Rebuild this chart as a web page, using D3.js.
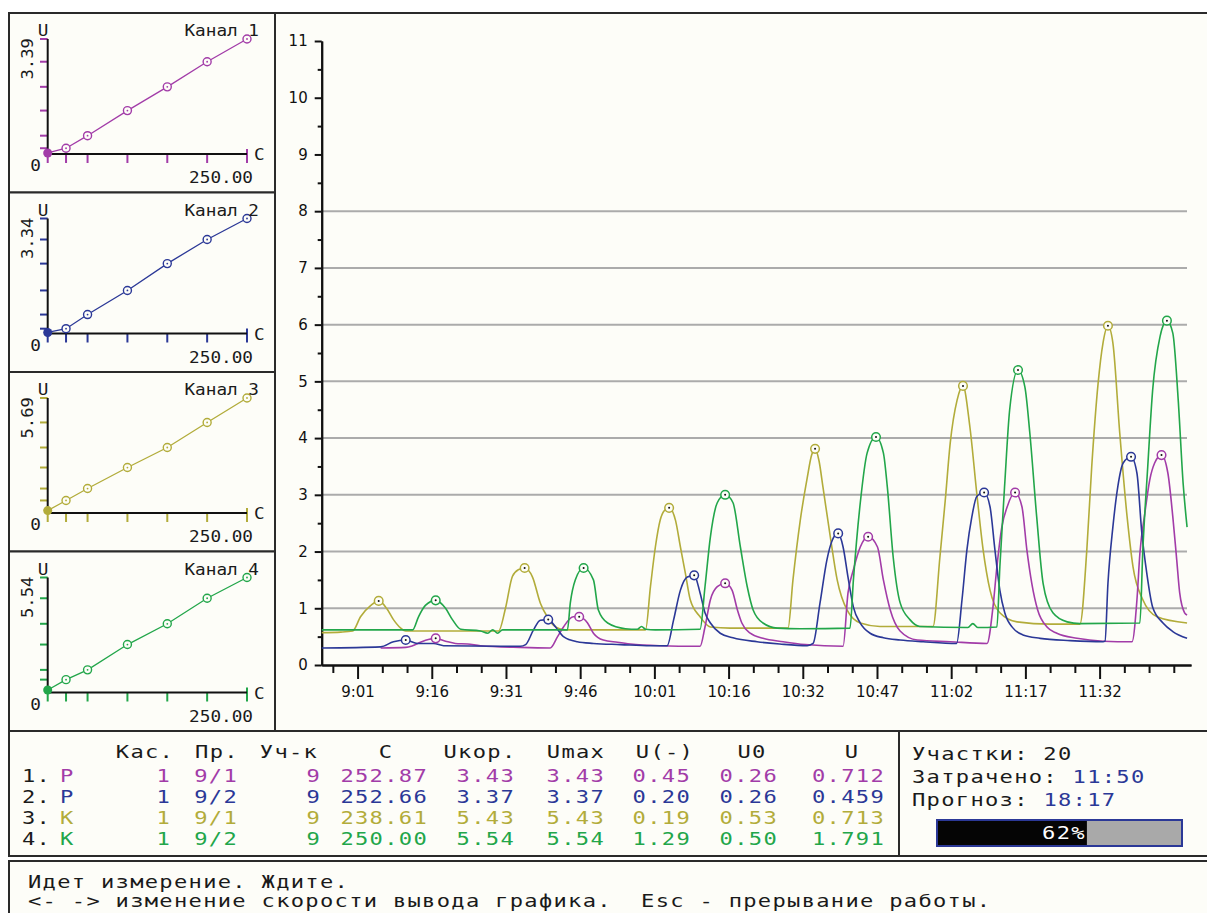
<!DOCTYPE html>
<html>
<head>
<meta charset="utf-8">
<script src="https://cdn.jsdelivr.net/npm/d3@7"></script>
<style>
body { margin: 0; background: #fff; }
svg { display: block; }
.mono { font-family: "DejaVu Sans Mono", monospace; font-size: 17px; letter-spacing: 1px; fill: #1a1a1a; white-space: pre; }
.small { font-family: "DejaVu Sans Mono", monospace; font-size: 15px; fill: #1a1a1a; }
.ax text { font-family: "DejaVu Sans", sans-serif; font-size: 15px; fill: #111; }
</style>
</head>
<body>
<div id="screen"></div>
<script>
// ---- данные ----
const channelNames = ['Канал 1', 'Канал 2', 'Канал 3', 'Канал 4'];
const calibC = [0, 23, 50, 100, 150, 200, 250];
const calibU1 = [0.03, 0.17, 0.54, 1.28, 1.98, 2.72, 3.39];
const calibU2 = [0.03, 0.14, 0.55, 1.25, 2.03, 2.73, 3.34];
const calibU3 = [0.12, 0.62, 1.21, 2.25, 3.24, 4.48, 5.69];
const calibU4 = [0.12, 0.62, 1.09, 2.31, 3.31, 4.54, 5.54];
const calibTop = ['3.39', '3.34', '5.69', '5.54'];
const calibMaxC = '250.00';

// время в минутах от 9:00
const timeTicks = [1, 16.1, 31.2, 46.3, 61.4, 76.5, 91.6, 106.7, 121.8, 136.9, 152.0];
const timeLabels = ['9:01', '9:16', '9:31', '9:46', '10:01', '10:16', '10:32', '10:47', '11:02', '11:17', '11:32'];
const yTicks = [0, 1, 2, 3, 4, 5, 6, 7, 8, 9, 10, 11];
const gridValues = [1, 2, 3, 4, 5, 6, 7, 8];

const ch1Trace = [[5.7,0.3],[10.8,0.31],[12.2,0.34],[13.8,0.4],[15.4,0.45],[16.9,0.47],[18.9,0.42],[20.9,0.38],[23.4,0.37],[26.0,0.34],
  [34.1,0.31],[40.2,0.3],[41.7,0.5],[42.9,0.67],[44.9,0.85],[46.1,0.85],[47.8,0.74],[49.0,0.56],[51.0,0.44],[53.9,0.4],[56.5,0.37],[62.6,0.34],
  [70.1,0.33],[70.7,0.33],[71.7,0.67],[72.8,1.15],[74.2,1.38],[75.8,1.44],[77.2,1.32],[78.3,0.97],[79.2,0.74],[80.9,0.56],[83.5,0.47],[87.6,0.41],[92.1,0.36],
  [99.8,0.33],[100.8,1.27],[101.9,1.68],[103.3,2.08],[104.9,2.26],[106.8,2.08],[108.0,1.5],[109.4,0.97],[111.4,0.6],[114.9,0.44],[121.6,0.41],
  [129.1,0.38],[130.3,1.02],[131.1,1.73],[132.1,2.43],[133.2,2.79],[134.8,3.04],[136.2,2.79],[137.2,2.03],[138.2,1.44],[139.4,0.97],[141.3,0.67],[143.3,0.56],[147.4,0.47],[152.7,0.42],
  [158.6,0.41],[159.6,1.15],[160.2,1.97],[161.2,2.67],[162.2,3.26],[163.2,3.56],[164.6,3.7],[165.9,3.38],[166.9,2.61],[167.7,1.85],[168.3,1.27],[169.3,0.92],[169.8,0.88]];

const ch2Trace = [[-6.3,0.3],[5.7,0.32],[8.3,0.41],[10.8,0.44],[13.2,0.38],[16.5,0.38],[18.5,0.34],[34.1,0.33],
  [35.2,0.36],[36.8,0.62],[38.2,0.79],[39.8,0.8],[41.3,0.67],[42.9,0.5],[45.7,0.41],[49.0,0.38],[54.5,0.36],[60.6,0.34],
  [64.0,0.34],[65.3,0.79],[66.7,1.32],[68.1,1.55],[69.5,1.58],[70.7,1.27],[71.7,0.92],[72.8,0.74],[74.8,0.56],[77.4,0.48],[82.3,0.41],[86.9,0.37],[92.5,0.34],
  [93.7,0.38],[95.1,1.09],[96.5,1.85],[97.6,2.2],[98.8,2.32],[99.8,2.08],[100.8,1.55],[101.9,1.02],[103.3,0.74],[105.3,0.56],[108.0,0.48],[111.4,0.44],[116.1,0.41],[122.9,0.38],
  [124.0,1.15],[125.0,2.03],[126.0,2.61],[127.0,2.97],[128.5,3.04],[129.7,2.79],[130.7,2.03],[131.7,1.32],[132.7,0.92],[134.4,0.65],[136.4,0.53],[139.9,0.47],[146.0,0.43],[152.7,0.41],
  [153.1,0.42],[153.7,1.44],[154.7,2.43],[155.7,3.14],[156.8,3.56],[158.4,3.67],[159.6,3.38],[160.6,2.32],[161.6,1.62],[162.8,1.02],[164.9,0.74],[166.9,0.59],[169.8,0.47]];

const ch3Trace = [[-6.3,0.57],[-2.4,0.58],[0,0.6],[1.6,0.85],[3.7,1.05],[5.3,1.13],[6.9,1.0],[8.3,0.8],[9.8,0.65],[10.8,0.6],
  [29.7,0.6],[31.1,1.0],[32.5,1.56],[33.7,1.68],[35.0,1.71],[36.6,1.55],[38.2,1.09],[39.6,0.85],[40.9,0.7],[43.3,0.62],
  [59.6,0.62],[60.6,1.38],[61.6,2.08],[62.6,2.56],[63.4,2.72],[64.4,2.77],[65.7,2.55],[66.7,2.08],[67.7,1.62],[68.7,1.15],[70.7,0.85],[72.8,0.67],[76.8,0.65],
  [88.6,0.65],[89.6,1.5],[91.1,2.56],[92.5,3.3],[93.4,3.7],[94.1,3.81],[94.9,3.6],[95.7,3.14],[97.2,2.26],[98.6,1.5],[100.6,0.97],[103.3,0.74],[107.3,0.68],
  [118.1,0.68],[119.5,1.9],[120.6,2.91],[121.6,3.91],[123.0,4.67],[124.2,4.92],[125.6,4.2],[127.0,3.03],[128.3,2.03],[129.7,1.32],[131.7,0.92],[135.2,0.76],[141.9,0.72],
  [148.0,0.72],[149.4,2.03],[150.4,3.5],[151.7,4.97],[152.7,5.68],[153.7,5.98],[154.7,5.68],[156.1,4.09],[157.6,2.61],[158.8,1.73],[160.8,1.15],[163.7,0.85],[169.8,0.74]];

const ch4Trace = [[-6.3,0.62],[12.2,0.62],[13.4,0.85],[14.8,1.05],[16.9,1.14],[18.9,1.0],[20.3,0.8],[22.0,0.63],[26.0,0.6],[27.5,0.56],[28.5,0.62],[29.5,0.56],[30.5,0.62],
  [43.7,0.62],[44.3,1.1],[45.3,1.5],[47.0,1.71],[49.0,1.5],[50.0,0.97],[51.9,0.74],[55.5,0.64],[57.9,0.63],[58.8,0.68],[59.6,0.63],[61.6,0.62],
  [70.7,0.63],[71.7,1.38],[72.8,2.26],[74.2,2.86],[75.8,3.0],[77.4,2.86],[78.9,2.08],[80.3,1.38],[81.5,0.97],[83.5,0.74],[86.4,0.65],[91.1,0.64],
  [101.2,0.65],[101.9,1.5],[103.3,2.86],[104.7,3.74],[106.5,4.02],[108.0,3.74],[108.8,3.14],[110.0,1.9],[111.4,1.1],[113.4,0.8],[115.4,0.68],[125.2,0.66],[126.2,0.73],[127.2,0.66],
  [131.1,0.67],[131.7,1.73],[132.7,3.2],[133.7,4.5],[135.4,5.2],[136.8,4.9],[137.8,4.09],[139.2,2.61],[140.5,1.44],[142.5,0.92],[145.4,0.76],[148.0,0.73],
  [160.2,0.74],[160.8,2.03],[161.8,3.5],[162.8,4.85],[164.3,5.79],[165.7,6.07],[166.9,5.85],[168.0,4.67],[169.0,3.2],[169.8,2.43]];

const ch1Peaks = [[16.9,0.47],[46.1,0.85],[75.8,1.44],[104.9,2.26],[134.8,3.04],[164.6,3.7]];
const ch2Peaks = [[10.8,0.44],[39.8,0.8],[69.5,1.58],[98.8,2.32],[128.5,3.04],[158.4,3.67]];
const ch3Peaks = [[5.3,1.13],[35.0,1.71],[64.4,2.77],[94.1,3.81],[124.2,4.92],[153.7,5.98]];
const ch4Peaks = [[16.9,1.14],[47.0,1.71],[75.8,3.0],[106.5,4.02],[135.4,5.2],[165.7,6.07]];

// таблица
const tableHeaders = ['Кас.', 'Пр.', 'Уч-к', 'С', 'Uкор.', 'Umax', 'U(-)', 'U0', 'U'];
const rowType = ['Р', 'Р', 'К', 'К'];
const colKas = ['1', '1', '1', '1'];
const colPr = ['9/1', '9/2', '9/1', '9/2'];
const colUch = ['9', '9', '9', '9'];
const colC = ['252.87', '252.66', '238.61', '250.00'];
const colUkor = ['3.43', '3.37', '5.43', '5.54'];
const colUmax = ['3.43', '3.37', '5.43', '5.54'];
const colUminus = ['0.45', '0.20', '0.19', '1.29'];
const colU0 = ['0.26', '0.26', '0.53', '0.50'];
const colU = ['0.712', '0.459', '0.713', '1.791'];

const sections = 20, spent = '11:50', forecast = '18:17', progress = 62;
const statusLines = ['Идет измерение. Ждите.', '<- -> изменение скорости вывода графика.  Esc - прерывание работы.'];

// ---- оформление ----
const W = 1207, H = 913;
const colors = ['#a23ca8', '#2b3897', '#b2ac3a', '#22a64a'];
const paper = '#fdfdf8', frame = '#2a2a2a';

const svg = d3.select('#screen').append('svg').attr('width', W).attr('height', H);
svg.append('rect').attr('width', W).attr('height', H).attr('fill', '#fff');

function box(x, y, w, h) {
    svg.append('rect').attr('x', x).attr('y', y).attr('width', w).attr('height', h)
        .attr('fill', paper).attr('stroke', frame).attr('stroke-width', 2);
}

// текст "как в DOS": растянутый по горизонтали моноширинный шрифт
function dosText(parent, cls, px, py, str, anchor, sx) {
    return parent.append('text').attr('class', cls)
        .attr('transform', `translate(${px},${py}) scale(${sx || 1.3},1)`)
        .attr('text-anchor', anchor || 'start').text(str);
}

// Рамки
const panelTop = 13, panelH = 179.5;
for (let i = 0; i < 4; i++) box(9, panelTop + i * panelH, 266, panelH);
box(275, 13, 940, 718);
box(9, 731, 1206, 125);
box(9, 861, 1206, 60);
svg.append('line').attr('x1', 899).attr('x2', 899).attr('y1', 731).attr('y2', 856).attr('stroke', frame).attr('stroke-width', 2);

// ---- маленькие графики калибровки ----
const calib = [calibU1, calibU2, calibU3, calibU4];
calib.forEach((vals, i) => {
    const g = svg.append('g').attr('transform', `translate(0,${panelTop + i * panelH})`);
    const col = colors[i];
    const cx = d3.scaleLinear().domain([0, 250]).range([47.7, 247]);
    const cy = d3.scaleLinear().domain([0, +calibTop[i]]).range([141, 26]);

    // тики
    g.selectAll('.xt').data(calibC).enter().append('line')
        .attr('x1', d => cx(d)).attr('x2', d => cx(d))
        .attr('y1', d => d === 250 ? 136 : 141).attr('y2', 150)
        .attr('stroke', col).attr('stroke-width', 2);
    g.selectAll('.yt').data(vals.slice(1)).enter().append('line')
        .attr('x1', 40).attr('x2', 47.7)
        .attr('y1', d => cy(d)).attr('y2', d => cy(d))
        .attr('stroke', col).attr('stroke-width', 2);

    g.append('line').attr('x1', 47.7).attr('x2', 47.7).attr('y1', cy.range()[1]).attr('y2', 141.5).attr('stroke', '#111').attr('stroke-width', 2);
    g.append('line').attr('x1', 47).attr('x2', 247).attr('y1', 141).attr('y2', 141).attr('stroke', '#111').attr('stroke-width', 2);

    const pts = calibC.map((c, k) => [c, vals[k]]);
    g.append('path').datum(pts)
        .attr('d', d3.line().x(d => cx(d[0])).y(d => cy(d[1])))
        .attr('fill', 'none').attr('stroke', col).attr('stroke-width', 1.3);
    g.selectAll('.pt').data(pts.slice(1)).enter().append('circle')
        .attr('cx', d => cx(d[0])).attr('cy', d => cy(d[1])).attr('r', 4)
        .attr('fill', paper).attr('stroke', col).attr('stroke-width', 1.4);
    g.selectAll('.pd').data(pts.slice(1)).enter().append('circle')
        .attr('cx', d => cx(d[0])).attr('cy', d => cy(d[1])).attr('r', 0.9).attr('fill', col);
    g.append('circle').attr('cx', cx(0)).attr('cy', cy(vals[0])).attr('r', 4.5).attr('fill', col);

    dosText(g, 'small', 43, 23, 'U', 'middle', 1.18);
    dosText(g, 'small', 259, 23, channelNames[i], 'end', 1.18);
    g.append('text').attr('class', 'small').attr('transform', 'translate(33,25) rotate(-90) scale(1.15,1.1)').attr('text-anchor', 'end').text(calibTop[i]);
    dosText(g, 'small', 254, 147, 'C', 'start', 1.18);
    dosText(g, 'small', 41, 158, '0', 'end', 1.18);
    dosText(g, 'small', 253, 170, calibMaxC, 'end', 1.18);
});

// ---- основной график ----
const x = d3.scaleLinear().domain([-6.3, 170.6]).range([321.7, 1191]);
const y = d3.scaleLinear().domain([0, 11]).range([665, 41]);

const chart = svg.append('g');
chart.selectAll('.grid').data(gridValues).enter().append('line')
    .attr('x1', 322).attr('x2', 1187)
    .attr('y1', d => y(d)).attr('y2', d => y(d))
    .attr('stroke', '#ababab').attr('stroke-width', 2);

const yAxis = chart.append('g').attr('class', 'ax').attr('transform', 'translate(321.7,0)')
    .call(d3.axisLeft(y).tickValues(yTicks).tickSize(7).tickSizeOuter(0));
chart.append('g').attr('class', 'ax').attr('transform', 'translate(321.7,0)')
    .call(d3.axisLeft(y).tickValues(d3.range(0.5, 11, 1)).tickSize(4).tickSizeOuter(0).tickFormat(''));
yAxis.selectAll('text').attr('x', -14);

const minorTicks = d3.range(timeTicks[0] - 5.033, 170.6, 5.0333).filter(m => !timeTicks.some(t => Math.abs(t - m) < 0.5));
const xAxis = chart.append('g').attr('class', 'ax').attr('transform', 'translate(0,665)')
    .call(d3.axisBottom(x).tickValues(timeTicks).tickSize(14).tickSizeOuter(0).tickFormat((d, i) => timeLabels[i]));
chart.append('g').attr('class', 'ax').attr('transform', 'translate(0,665)')
    .call(d3.axisBottom(x).tickValues(minorTicks).tickSize(8).tickSizeOuter(0).tickFormat(''));
xAxis.selectAll('text').attr('y', 21);
chart.selectAll('.ax path, .ax line').attr('stroke', '#111').attr('stroke-width', 2);

const line = d3.line().curve(d3.curveMonotoneX).x(d => x(d[0])).y(d => y(d[1]));
const traces = [ch3Trace, ch1Trace, ch2Trace, ch4Trace];
const traceColors = [colors[2], colors[0], colors[1], colors[3]];
traces.forEach((t, i) => {
    chart.append('path').datum(t).attr('d', line)
        .attr('fill', 'none').attr('stroke', traceColors[i]).attr('stroke-width', 1.6);
});

[ch1Peaks, ch2Peaks, ch3Peaks, ch4Peaks].forEach((p, i) => {
    chart.selectAll('.pk' + i).data(p).enter().append('circle')
        .attr('cx', d => x(d[0])).attr('cy', d => y(d[1])).attr('r', 4.3)
        .attr('fill', paper).attr('stroke', colors[i]).attr('stroke-width', 1.5);
    chart.selectAll('.pkd' + i).data(p).enter().append('circle')
        .attr('cx', d => x(d[0])).attr('cy', d => y(d[1])).attr('r', 1).attr('fill', '#111');
});

// ---- таблица ----
const headX = [145, 217, 289, 386, 480, 576, 665, 752, 852];
tableHeaders.forEach((h, k) => dosText(svg, 'mono', headX[k], 758, h, 'middle'));
const cols = [colKas, colPr, colUch, colC, colUkor, colUmax, colUminus, colU0, colU];
const colRight = [171, 238, 321, 428, 515, 605, 691, 778, 885];
const rowY = [782, 803, 824, 845];
rowType.forEach((t, r) => {
    dosText(svg, 'mono', 22, rowY[r], (r + 1) + '.');
    dosText(svg, 'mono', 60, rowY[r], t).style('fill', colors[r]);
    cols.forEach((c, k) => {
        dosText(svg, 'mono', colRight[k], rowY[r], c[r], 'end').style('fill', colors[r]);
    });
});

// ---- сводка ----
const info = svg.append('g');
dosText(info, 'mono', 912, 760, 'Участки: ' + sections);
const t2 = dosText(info, 'mono', 912, 783, 'Затрачено: ');
t2.append('tspan').style('fill', colors[1]).text(spent);
const t3 = dosText(info, 'mono', 912, 806, 'Прогноз: ');
t3.append('tspan').style('fill', colors[1]).text(forecast);

const bar = d3.scaleLinear().domain([0, 100]).range([937, 1182]);
info.append('rect').attr('x', bar(0)).attr('y', 820).attr('width', bar(100) - bar(0)).attr('height', 26)
    .attr('fill', '#a9a9a9').attr('stroke', colors[1]).attr('stroke-width', 2);
info.append('rect').attr('x', bar(0) + 1).attr('y', 821).attr('width', bar(progress) - bar(0) - 3).attr('height', 24).attr('fill', '#050505');
dosText(info, 'mono', bar(progress) - 3, 839, progress + '%', 'end').style('fill', '#fff');

// ---- строка состояния ----
statusLines.forEach((s, k) => dosText(svg, 'mono', 28, 888 + k * 19, s));
</script>
</body>
</html>
